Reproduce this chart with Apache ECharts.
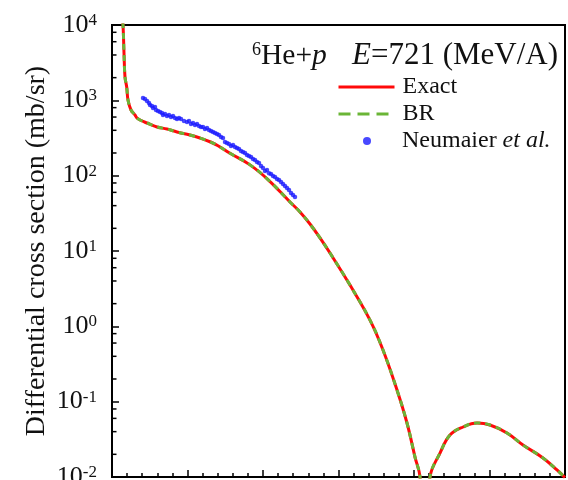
<!DOCTYPE html>
<html><head><meta charset="utf-8">
<script src="https://cdn.jsdelivr.net/npm/echarts@6/dist/echarts.min.js"></script>
<style>html,body{margin:0;padding:0;background:#fff}#c{width:568px;height:480px}</style>
</head><body><div id="c"></div>
<script>
// x: c.m. angle (deg), y: differential cross section (mb/sr)
const curveTheta = [0.45,0.583,0.636,0.689,0.779,0.848,1.007,1.219,1.325,1.483,1.854,2.384,2.914,3.444,4.132,4.662,5.192,5.616,6.252,7.311,8.29,9.43,9.96,10.49,11.02,11.55,12.609,13.669,14.358,15.099,15.629,16.053,16.318,16.58,16.848,17.377,17.907,18.596,19.338,20.026,20.927,21.775,22.834,23.576,24.0];
const exactValues = [30000,10000,4250,2040,1500,1010,744,639,582,548,500,443,416,380,347,316,282,250,198,139,87.5,44.7,33.0,22.8,14.9,9.40,3.53,1.21,0.485,0.143,0.0521,0.0184,0.0100,0.0008,0.0100,0.0208,0.0361,0.0461,0.0521,0.0490,0.0384,0.0266,0.0179,0.0124,0.0098];
const brValues = [30000,10000,4250,2040,1500,1010,744,639,582,548,500,443,416,380,347,316,282,250,198,139,87.5,44.7,33.0,22.8,14.9,9.40,3.53,1.21,0.485,0.143,0.0521,0.0184,0.0100,0.0008,0.0100,0.0208,0.0361,0.0461,0.0521,0.0490,0.0384,0.0266,0.0179,0.0124,0.0098];
const dataTheta = [1.642,1.748,1.854,1.960,2.013,2.119,2.172,2.278,2.331,2.437,2.543,2.649,2.702,2.808,2.914,3.020,3.126,3.232,3.338,3.444,3.550,3.656,3.815,3.974,4.079,4.185,4.291,4.397,4.503,4.609,4.715,4.821,4.927,5.033,5.139,5.245,5.351,5.457,5.563,5.669,5.775,5.881,5.987,6.093,6.199,6.305,6.411,6.517,6.623,6.728,6.834,6.940,7.046,7.152,7.258,7.364,7.470,7.576,7.682,7.788,7.894,8.000,8.106,8.212,8.318,8.424,8.530,8.636,8.742,8.848,8.954,9.060,9.166,9.272,9.377,9.483,9.589,9.695];
const dataValues = [1074,1042,980,922,867,841,791,815,744,722,700,679,638,659,619,638,601,619,582,565,582,565,532,515,532,485,500,471,485,456,443,443,416,430,404,392,380,368,357,347,326,316,280,272,263,248,255,240,233,226,212,206,200,188,182,177,166,161,152,147,134,126,115,119,108,105,98.9,95.9,90.3,87.5,82.4,77.4,72.9,68.5,64.5,58.9,55.3,52.1];
const yMinorTickValues = [0.02,0.04,0.06,0.08,0.2,0.4,0.6,0.8,2,4,6,8,20,40,60,80,200,400,600,800,2000,4000,6000,8000];

const FONT = "'Liberation Serif','Times New Roman',serif";
const zip = (a,b) => a.map((v,i)=>[v,b[i]]);
const chart = echarts.init(document.getElementById('c'), null, {renderer:'canvas'});

const supMap = v => {
  const e = Math.round(Math.log10(v));
  return '{b|10}{s|' + e + '}';
};
const tStyle = (extra) => Object.assign({fontFamily:FONT,color:'#111',fontWeight:'normal'}, extra);

chart.setOption({
  animation:false,
  backgroundColor:'#fff',
  title:[
    {text:'{s|6}{n|He+}{i|p}', left:247, top:36,
     textStyle:{fontWeight:'normal',rich:{s:tStyle({fontSize:18,verticalAlign:'top'}),
                      n:tStyle({fontSize:29.5}),
                      i:tStyle({fontSize:29.5,fontStyle:'italic'})}}},
    {text:'{i|E}{n|=721 (MeV/A)}', left:347, top:35,
     textStyle:{fontWeight:'normal',rich:{n:tStyle({fontSize:31}),
                      i:tStyle({fontSize:31,fontStyle:'italic'})}}}
  ],
  legend:[
    {data:[{name:'Exact',itemStyle:{opacity:0},lineStyle:{width:3}}], left:337, top:75, padding:0, itemWidth:56, itemHeight:14, selectedMode:false,
     formatter:n=>'{g|}'+n,
     textStyle:{fontSize:24,fontFamily:FONT,color:'#111',rich:{g:{width:3}}}},
    {data:[{name:'BR',itemStyle:{opacity:0},lineStyle:{type:[12,7],width:3}}], left:337, top:102, padding:0, itemWidth:56, itemHeight:14, selectedMode:false,
     formatter:n=>'{g|}'+n,
     textStyle:{fontSize:24,fontFamily:FONT,color:'#111',rich:{g:{width:3}}}},
    {data:['Neumaier et al.'], left:363, top:129, padding:0, itemWidth:8, itemHeight:8, selectedMode:false,
     formatter:n=>'{g|}Neumaier {i|et al.}',
     textStyle:{fontSize:24,fontFamily:FONT,color:'#111',
       rich:{g:{width:26},i:{fontSize:24,fontFamily:FONT,fontStyle:'italic',color:'#111'}}}}
  ],
  grid:{left:112,right:3,top:25,bottom:3,show:true,borderColor:'#000',borderWidth:2,backgroundColor:'transparent',
        outerBoundsMode:'none',containLabel:false},
  xAxis:{type:'value',min:0,max:24,interval:4,
    axisLine:{lineStyle:{color:'#000',width:2}},
    axisTick:{inside:true,length:7,lineStyle:{color:'#000',width:1.5}},
    minorTick:{show:true,splitNumber:5,length:4,lineStyle:{color:'#000',width:1.5}},
    axisLabel:{show:false},splitLine:{show:false}},
  yAxis:{type:'log',logBase:10,min:0.01,max:10000,splitNumber:6,
    name:'Differential cross section (mb/sr)',nameLocation:'middle',nameGap:61,nameMoveOverlap:false,
    nameTextStyle:{fontSize:28,fontFamily:FONT,color:'#111'},
    axisLine:{lineStyle:{color:'#000',width:2}},
    axisTick:{inside:true,length:7,lineStyle:{color:'#000',width:1.5}},
    axisLabel:{margin:15,formatter:supMap,
      rich:{b:{fontSize:26,fontFamily:FONT,color:'#111'},
            s:{fontSize:17,fontFamily:FONT,color:'#111',verticalAlign:'top'}}},
    splitLine:{show:false}},
  series:[
    {name:'Exact',type:'line',data:zip(curveTheta,exactValues),symbol:'none',smooth:0.4,
     lineStyle:{color:'#ff0a0a',width:3},itemStyle:{color:'#ff0a0a'},z:2},
    {name:'BR',type:'line',data:zip(curveTheta,brValues),symbol:'none',smooth:0.4,
     lineStyle:{color:'#6ab536',width:3,type:[6,5]},itemStyle:{color:'#6ab536'},z:3},
    {name:'Neumaier et al.',type:'scatter',data:zip(dataTheta,dataValues),symbol:'circle',symbolSize:4.5,
     itemStyle:{color:'#1a1aff'},z:4},
    {name:'minorTicks',type:'custom',silent:true,z:5,
     data:yMinorTickValues.map(v=>[0,v]),
     renderItem:(params,api)=>{
       const p = api.coord([api.value(0),api.value(1)]);
       return {type:'line',shape:{x1:p[0],y1:p[1],x2:p[0]+4.5,y2:p[1]},style:{stroke:'#000',lineWidth:1.5}};
     }}
  ]
});
</script></body></html>
